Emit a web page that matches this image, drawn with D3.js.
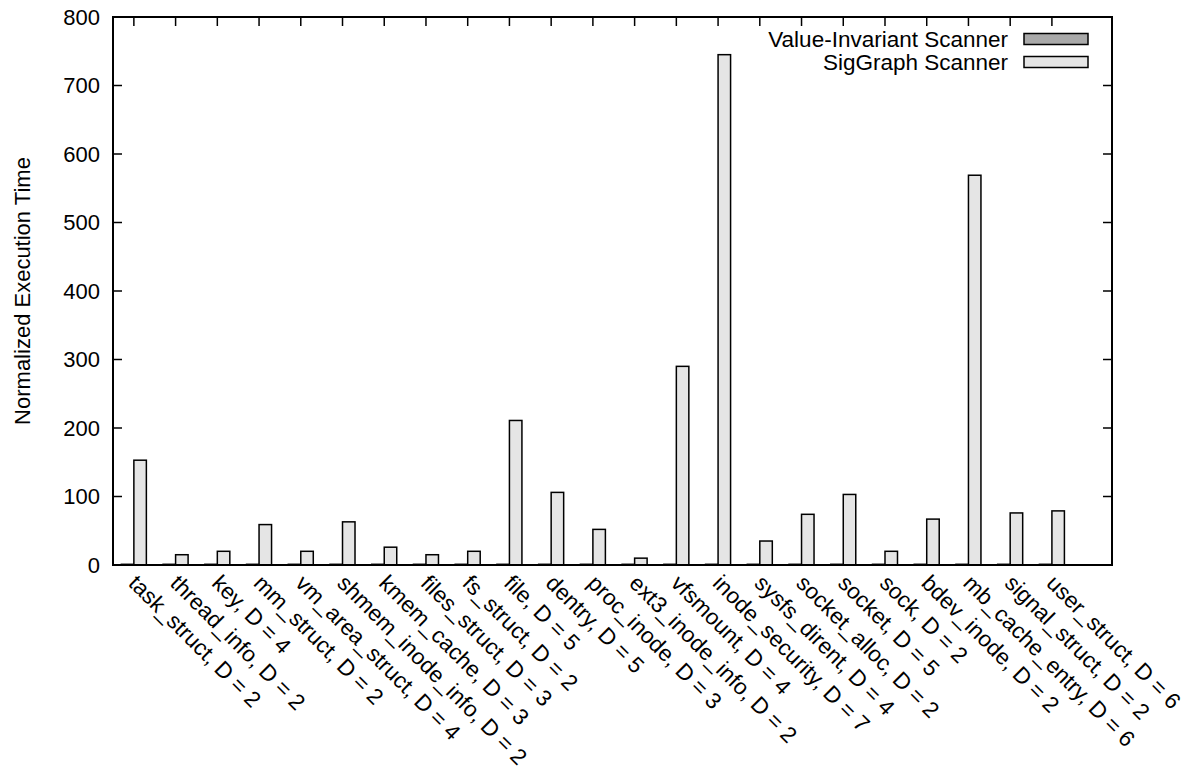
<!DOCTYPE html>
<meta charset="utf-8">
<style>
    body { margin: 0; background: #fff; }
    text { font-family: "Liberation Sans", Arial, sans-serif; fill: #000; }
    .frame { fill: none; stroke: #000; stroke-width: 2; }
    .tick-line { stroke: #000; stroke-width: 1.5; }
    .bar { stroke: #000; stroke-width: 1.5; }
</style>
<svg width="1194" height="767"></svg>
<script src="https://d3js.org/d3.v7.min.js"></script>
<script>

var categories = ["task_struct, D = 2", "thread_info, D = 2", "key, D = 4", "mm_struct, D = 2",
    "vm_area_struct, D = 4", "shmem_inode_info, D = 2", "kmem_cache, D = 3", "files_struct, D = 3",
    "fs_struct, D = 2", "file, D = 5", "dentry, D = 5", "proc_inode, D = 3", "ext3_inode_info, D = 2",
    "vfsmount, D = 4", "inode_security, D = 7", "sysfs_dirent, D = 4", "socket_alloc, D = 2",
    "socket, D = 5", "sock, D = 2", "bdev_inode, D = 2", "mb_cache_entry, D = 6",
    "signal_struct, D = 2", "user_struct, D = 6"];

var valueInvariant = [1, 1, 1, 1, 1, 1, 1, 1, 1, 1, 1, 1, 1, 1, 1, 1, 1, 1, 1, 1, 1, 1, 1];
var sigGraph = [153, 15, 20, 59, 20, 63, 26, 15, 20, 211, 106, 52, 10, 290, 745, 35, 74, 103, 20, 67, 569, 76, 79];

var yTicks = [0, 100, 200, 300, 400, 500, 600, 700, 800];
var seriesNames = ["Value-Invariant Scanner", "SigGraph Scanner"];
var seriesColors = ["#a9a9a9", "#e5e5e5"];

var svg = d3.select("svg"),
    margin = {top: 17, right: 82, bottom: 202, left: 113},
    width = +svg.attr("width") - margin.left - margin.right,
    height = +svg.attr("height") - margin.top - margin.bottom;

var x = d3.scaleLinear().domain([-0.5, 23.44]).range([0, width]),
    y = d3.scaleLinear().domain([0, 800]).range([height, 0]);

var barW = 12.5;

var g = svg.append("g")
    .attr("transform", "translate(" + margin.left + "," + margin.top + ")");

// y ticks, mirrored on both sides
g.selectAll(".ytick-l")
    .data(yTicks)
    .enter().append("line")
    .attr("class", "tick-line")
    .attr("x1", 0).attr("x2", 9)
    .attr("y1", function(d) { return y(d); })
    .attr("y2", function(d) { return y(d); });

g.selectAll(".ytick-r")
    .data(yTicks)
    .enter().append("line")
    .attr("class", "tick-line")
    .attr("x1", width).attr("x2", width - 9)
    .attr("y1", function(d) { return y(d); })
    .attr("y2", function(d) { return y(d); });

g.selectAll(".ylab")
    .data(yTicks)
    .enter().append("text")
    .attr("x", -13)
    .attr("y", function(d) { return y(d); })
    .attr("dy", "0.35em")
    .attr("text-anchor", "end")
    .style("font-size", "22px")
    .text(function(d) { return d; });

// x ticks at top (mirror)
g.selectAll(".xtick-t")
    .data(categories)
    .enter().append("line")
    .attr("class", "tick-line")
    .attr("x1", function(d, i) { return x(i); })
    .attr("x2", function(d, i) { return x(i); })
    .attr("y1", 0).attr("y2", 9);

// bars
g.selectAll(".bar-vi")
    .data(valueInvariant)
    .enter().append("rect")
    .attr("class", "bar")
    .style("fill", seriesColors[0])
    .attr("x", function(d, i) { return x(i) - barW; })
    .attr("y", function(d) { return y(d); })
    .attr("width", barW)
    .attr("height", function(d) { return height - y(d); });

g.selectAll(".bar-sg")
    .data(sigGraph)
    .enter().append("rect")
    .attr("class", "bar")
    .style("fill", seriesColors[1])
    .attr("x", function(d, i) { return x(i); })
    .attr("y", function(d) { return y(d); })
    .attr("width", barW)
    .attr("height", function(d) { return height - y(d); });

g.append("rect")
    .attr("class", "frame")
    .attr("width", width)
    .attr("height", height);

// rotated category labels
g.selectAll(".xlab")
    .data(categories)
    .enter().append("text")
    .attr("transform", function(d, i) {
        return "translate(" + (x(i) - 1) + "," + (height + 14) + ") rotate(45)";
    })
    .attr("dy", "0.35em")
    .attr("text-anchor", "start")
    .style("font-size", "22.5px")
    .text(function(d) { return d; });

// y axis title
svg.append("text")
    .attr("transform", "translate(30," + (margin.top + height / 2) + ") rotate(-90)")
    .attr("text-anchor", "middle")
    .style("font-size", "22px")
    .text("Normalized Execution Time");

// legend
var legend = svg.append("g")
    .selectAll("g")
    .data(seriesNames)
    .enter().append("g")
    .attr("transform", function(d, i) { return "translate(0," + (39 + i * 23) + ")"; });

legend.append("text")
    .attr("x", 1008)
    .attr("dy", "0.35em")
    .attr("text-anchor", "end")
    .style("font-size", "22.5px")
    .text(function(d) { return d; });

legend.append("rect")
    .attr("class", "bar")
    .attr("x", 1024)
    .attr("y", -5.5)
    .attr("width", 64)
    .attr("height", 11)
    .style("fill", function(d, i) { return seriesColors[i]; });

</script>
